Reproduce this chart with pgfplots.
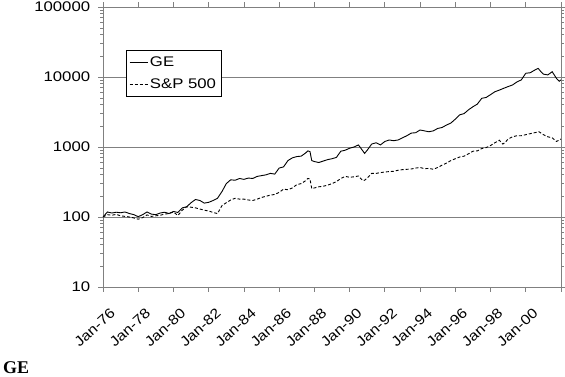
\documentclass[border=0pt]{standalone}
\usepackage{graphicx}
\usepackage{fontspec}
\setmainfont{Liberation Sans}
\newfontfamily\serifbold{Liberation Serif}
\usepackage{pgfplots}
\pgfplotsset{compat=1.18}
\usepackage{pgfplotstable}

\pgfplotstableread{
x y
1976.00 100
1976.25 118
1976.50 114
1976.75 117
1977.00 115
1977.25 118
1977.50 112
1977.75 108
1978.00 101
1978.25 108
1978.50 118
1978.75 110
1979.00 108
1979.25 114
1979.50 117
1979.75 112
1980.00 120
1980.25 116
1980.50 135
1980.75 140
1981.00 160
1981.25 178
1981.50 172
1981.75 158
1982.00 162
1982.25 172
1982.50 185
1982.75 230
1983.00 300
1983.25 340
1983.50 335
1983.75 355
1984.00 345
1984.25 360
1984.50 355
1984.75 380
1985.00 390
1985.25 400
1985.50 420
1985.75 410
1986.00 500
1986.25 520
1986.50 640
1986.75 700
1987.00 730
1987.25 740
1987.50 820
1987.625 880
1987.75 860
1987.85 640
1988.00 620
1988.25 600
1988.50 630
1988.75 660
1989.00 680
1989.25 710
1989.50 870
1989.75 900
1990.00 960
1990.25 1000
1990.50 1070
1990.75 880
1990.85 810
1991.00 900
1991.25 1100
1991.50 1150
1991.75 1070
1992.00 1200
1992.25 1260
1992.50 1230
1992.75 1260
1993.00 1350
1993.25 1450
1993.50 1580
1993.75 1600
1994.00 1750
1994.25 1700
1994.50 1650
1994.75 1700
1995.00 1840
1995.25 1900
1995.50 2060
1995.75 2200
1996.00 2500
1996.25 2880
1996.50 3000
1996.75 3400
1997.00 3760
1997.25 4100
1997.50 4960
1997.75 5100
1998.00 5600
1998.25 6160
1998.50 6500
1998.75 6900
1999.00 7300
1999.25 7700
1999.50 8500
1999.75 9100
2000.00 11300
2000.25 11500
2000.50 12500
2000.70 13300
2000.85 12000
2001.00 11000
2001.25 10700
2001.50 11900
2001.75 9500
2001.90 8700
2002.00 9100
}\ge

\pgfplotstableread{
x y
1976.00 100
1976.25 108
1976.50 106
1976.75 109
1977.00 104
1977.25 102
1977.50 100
1977.75 97
1978.00 93
1978.25 98
1978.50 107
1978.75 102
1979.00 104
1979.25 106
1979.50 110
1979.75 112
1980.00 118
1980.25 105
1980.50 125
1980.75 140
1981.00 138
1981.25 135
1981.50 130
1981.75 125
1982.00 122
1982.25 116
1982.50 112
1982.75 145
1983.00 160
1983.25 175
1983.50 185
1983.75 180
1984.00 180
1984.25 175
1984.50 172
1984.75 180
1985.00 190
1985.25 198
1985.50 205
1985.75 210
1986.00 225
1986.25 250
1986.50 245
1986.75 260
1987.00 290
1987.25 300
1987.50 330
1987.625 355
1987.75 350
1987.85 255
1988.00 260
1988.25 270
1988.50 275
1988.75 285
1989.00 300
1989.25 320
1989.50 355
1989.75 380
1990.00 370
1990.25 375
1990.50 385
1990.75 330
1990.85 335
1991.00 360
1991.25 420
1991.50 420
1991.75 430
1992.00 440
1992.25 445
1992.50 450
1992.75 465
1993.00 475
1993.25 480
1993.50 485
1993.75 500
1994.00 510
1994.25 490
1994.50 495
1994.75 480
1995.00 510
1995.25 550
1995.50 590
1995.75 640
1996.00 680
1996.25 720
1996.50 740
1996.75 800
1997.00 870
1997.25 880
1997.50 950
1997.75 980
1998.00 1050
1998.25 1150
1998.50 1250
1998.70 1100
1998.85 1180
1999.00 1300
1999.25 1400
1999.50 1450
1999.75 1450
2000.00 1500
2000.25 1550
2000.50 1600
2000.75 1650
2001.00 1500
2001.25 1400
2001.50 1350
2001.75 1200
2002.00 1300
}\sp

\newcommand{\xl}[1]{\scalebox{1.15}[1]{#1}}
\begin{document}
\begin{tikzpicture}
\path[use as bounding box] (-103bp,-90bp) rectangle (462bp,287bp);
\begin{axis}[
  at={(0,0)}, anchor=south west,
  scale only axis, width=458bp, height=280bp,
  ymode=log, ymin=10, ymax=100000,
  xmin=1976, xmax=2002,
  axis line style={gray},
  ytick={10,100,1000,10000,100000},
  yticklabels={10,100,1000,10000,100000},
  xtick={1976,1978,...,2002},
  xticklabels={\xl{Jan-76},\xl{Jan-78},\xl{Jan-80},\xl{Jan-82},\xl{Jan-84},\xl{Jan-86},\xl{Jan-88},\xl{Jan-90},\xl{Jan-92},\xl{Jan-94},\xl{Jan-96},\xl{Jan-98},\xl{Jan-00},{}},
  tick align=outside, major tick length=5bp,
  tick style={gray, line width=0.8bp},
  minor tick num=0,
  ymajorgrids, major grid style={gray, line width=0.8bp},
  yticklabel style={font=\fontsize{14}{16}\selectfont, xscale=1.2, anchor=east, xshift=-3bp},
  xticklabel style={font=\fontsize{14}{16}\selectfont, xshift=10bp, yshift=-19bp, rotate=42, anchor=east, inner sep=0pt},
  /pgf/number format/assume math mode=true,
  legend style={at={(0.050,0.846)}, anchor=north west, draw=black, line width=0.6bp,
    font=\fontsize{14}{16}\selectfont, inner xsep=3bp, inner ysep=4bp, row sep=7bp},
  legend cell align=left,
  legend image code/.code={\draw[#1, line width=0.8bp] (0bp,0bp) -- (18bp,0bp);},
]
\addplot[black, line width=0.9bp] table[x=x,y=y] {\ge};
\addlegendentry{\scalebox{1.2}[1]{GE}}
\addplot[black, line width=0.9bp, dash pattern=on 3bp off 2bp] table[x=x,y=y] {\sp};
\addlegendentry{\scalebox{1.2}[1]{S\&P 500}}
\end{axis}
\node[anchor=base west, inner sep=0pt, font=\serifbold\bfseries\fontsize{18}{20}\selectfont] at (-100bp,-86bp) {GE};
\end{tikzpicture}
\end{document}
